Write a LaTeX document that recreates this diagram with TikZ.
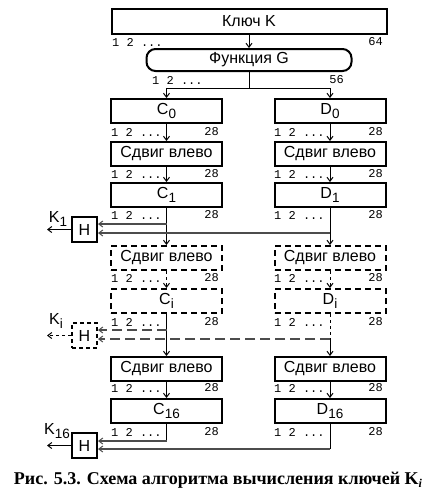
\documentclass[tikz,border=0pt]{standalone}
\usepackage{fontspec}
\setmainfont{Liberation Sans}
\newfontfamily\numfont{Liberation Mono}
\newfontfamily\capfont{Liberation Serif}
\usetikzlibrary{arrows.meta}
\newcommand{\lowix}[1]{\raisebox{-4pt}{\fontsize{13.5}{13.5}\selectfont #1}}

\tikzset{
  blk/.style={draw, line width=2pt, minimum width=111pt, minimum height=24pt, inner sep=0pt, font=\fontsize{16}{18}\selectfont},
  dblk/.style={blk, dash pattern=on 6pt off 4pt},
  hblk/.style={blk, minimum width=25pt, minimum height=25pt},
  arr/.style={line width=1pt, -{Straight Barb[length=4pt,width=6pt]}},
  ln/.style={line width=1pt},
  tap/.style={line width=2pt, black!70, -{Straight Barb[length=4pt,width=6pt,line width=1pt]}},
  dtap/.style={tap, dash pattern=on 10pt off 5pt},
  num/.style={font=\numfont\fontsize{12}{12}\selectfont, inner sep=0pt},
  klab/.style={font=\fontsize{16}{18}\selectfont, inner sep=0pt},
}

\begin{document}
\begin{tikzpicture}[x=1pt,y=-1pt]
\useasboundingbox (0,0) rectangle (437,496);
% key and function G
\node[blk, minimum width=275pt, minimum height=25pt] (key) at (249,21.5) {Ключ K};
\node[blk, minimum width=205pt, minimum height=22pt, rounded corners=9pt] (G) at (249,60) {Функция G};
\node[num, anchor=west] (nk) at (112,42) {1 2 ...};
\node[num, anchor=east] (mk) at (383,42) {64};
\node[num, anchor=west] (ng) at (152,80) {1 2 ...};
\node[num, anchor=east] (mg) at (344,80) {56};

% registers C and D
\node[blk] (C0) at (166.5,111) {C\lowix{0}};
\node[blk] (D0) at (330,111) {D\lowix{0}};
\node[blk] (SC1) at (166.5,154) {Сдвиг влево};
\node[blk] (SD1) at (330,154) {Сдвиг влево};
\node[blk] (C1) at (166.5,195) {C\lowix{1}};
\node[blk] (D1) at (330,195) {D\lowix{1}};
\node[dblk] (SCi) at (166.5,258) {Сдвиг влево};
\node[dblk] (SDi) at (330,258) {Сдвиг влево};
\node[dblk] (Ci) at (166.5,301) {C\lowix{i}};
\node[dblk] (Di) at (330,301) {D\lowix{i}};
\node[blk] (SC16) at (166.5,369) {Сдвиг влево};
\node[blk] (SD16) at (330,369) {Сдвиг влево};
\node[blk] (C16) at (166.5,411) {C\lowix{16}};
\node[blk] (D16) at (330,411) {D\lowix{16}};
\foreach \y in {132,174,215,278,322,388,432} {
  \node[num, anchor=west] (nc\y) at (111,\y) {1 2 ...};
  \node[num, anchor=east] (mc\y) at (219,\y) {28};
  \node[num, anchor=west] (nd\y) at (274,\y) {1 2 ...};
  \node[num, anchor=east] (md\y) at (383,\y) {28};
}
\draw[arr] (key) -- (G);
\coordinate (split) at (249,88);
\draw[ln] (G) -- (split);
\draw[arr] (split) -| (C0);
\draw[arr] (split) -| (D0);
\draw[arr] (C0) -- (SC1);
\draw[arr] (D0) -- (SD1);
\draw[arr] (SC1) -- (C1);
\draw[arr] (SD1) -- (D1);
\draw[arr] (C1) -- (SCi);
\draw[arr] (D1) -- (SDi);
\draw[arr, dashed] (SCi) -- (Ci);
\draw[arr, dashed] (SDi) -- (Di);
\draw[arr] (Ci) -- (SC16);
\coordinate (ditap) at (330,339);
\draw[ln, dashed] (Di) -- (ditap);
\draw[arr] (ditap) -- (SD16);
\draw[arr] (SC16) -- (C16);
\draw[arr] (SD16) -- (D16);

% blocks H
\node[hblk] (H1) at (84.5,229.5) {H};
\node[hblk, dash pattern=on 4pt off 3pt] (Hi) at (84.5,335.5) {H};
\node[hblk] (H16) at (84.5,445.5) {H};
\coordinate (c1tap) at (166.5,224);
\coordinate (d1tap) at (330,233);
\draw[tap] (c1tap) -- (c1tap -| H1.east);
\draw[tap] (d1tap) -- (d1tap -| H1.east);
\coordinate (citap) at (166.5,330);
\draw[dtap] (citap) -- (citap -| Hi.east);
\draw[dtap] (ditap) -- (ditap -| Hi.east);
\coordinate (c16tap) at (166.5,441);
\coordinate (d16tap) at (330,449);
\draw[ln] (C16) -- (c16tap);
\draw[ln] (D16) -- (d16tap);
\draw[tap] (c16tap) -- (c16tap -| H16.east);
\draw[tap] (d16tap) -- (d16tap -| H16.east);

% outputs K
\coordinate (k1end) at (47,229.5);
\coordinate (kiend) at (47,335.5);
\coordinate (k16end) at (47,445.5);
\draw[arr] (H1) -- (k1end);
\draw[arr, dashed] (Hi) -- (kiend);
\draw[arr] (H16) -- (k16end);
\node[klab] (k1lab) at (58,219) {K\lowix{1}};
\node[klab] (kilab) at (56,321) {K\lowix{i}};
\node[klab] (k16lab) at (57,431) {K\lowix{16}};

\node[font=\capfont\bfseries\fontsize{18}{20}\selectfont] (cap) at (218,480)
  {Рис. 5.3. Схема алгоритма вычисления ключей K\raisebox{-3pt}{\fontsize{12}{12}\selectfont\itshape i}};
\end{tikzpicture}
\end{document}
